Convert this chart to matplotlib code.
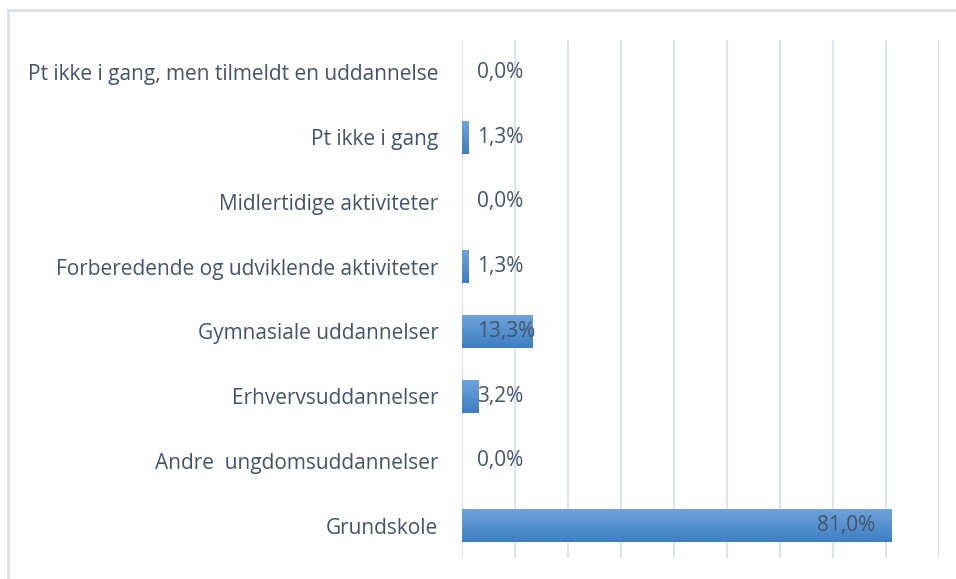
import matplotlib.pyplot as plt
import matplotlib.patches as mpatches
from matplotlib.colors import LinearSegmentedColormap
import numpy as np

categories = [
    "Pt ikke i gang, men tilmeldt en uddannelse",
    "Pt ikke i gang",
    "Midlertidige aktiviteter",
    "Forberedende og udviklende aktiviteter",
    "Gymnasiale uddannelser",
    "Erhvervsuddannelser",
    "Andre  ungdomsuddannelser",
    "Grundskole",
]
values = [0.0, 1.3, 0.0, 1.3, 13.3, 3.2, 0.0, 81.0]

text_col = "#44546a"
grid_col = "#dfe3ea"
bar_col = "#5592d2"

plt.rcParams["font.family"] = ["Open Sans", "DejaVu Sans"]

fig = plt.figure(figsize=(9.56, 5.79), dpi=100)
ax = fig.add_axes([462 / 956, 1 - 558 / 579, 477 / 956, 518 / 579])

y = list(range(len(categories)))
bars = ax.barh(y, values, height=0.51, color=bar_col, zorder=3)

# light-to-dark vertical gradient like the original bars
cmap = LinearSegmentedColormap.from_list("bar", ["#6fa5dc", "#3e7ec3"])
grad = np.linspace(0, 1, 64).reshape(-1, 1)
for b in bars:
    if b.get_width() <= 0:
        continue
    x0, y0 = b.get_x(), b.get_y()
    im = ax.imshow(grad, cmap=cmap, aspect="auto", zorder=3.5,
                   extent=(x0, x0 + b.get_width(), y0 + b.get_height(), y0),
                   origin="upper")
    im.set_clip_path(b)

for yi, v in zip(y, values):
    label = f"{v:.1f}%".replace(".", ",")
    if v > 50:
        ax.text(v - 3.0, yi, label, ha="right", va="center", fontsize=15, color=text_col, zorder=4)
    else:
        ax.text(2.9, yi, label, ha="left", va="center", fontsize=15, color=text_col, zorder=4)

ax.set_xlim(0, 90)
ax.set_ylim(len(categories) - 0.5, -0.5)
ax.set_xticks(range(0, 91, 10))
ax.set_xticklabels([])
ax.set_yticks(y)
ax.set_yticklabels(categories, fontsize=15, color=text_col)
ax.tick_params(axis="both", length=0)
ax.tick_params(axis="y", pad=17)
ax.grid(axis="x", color=grid_col, linewidth=1.5, zorder=0)
for s in ax.spines.values():
    s.set_visible(False)

# outer chart frame (cut off on the right and bottom)
frame = mpatches.Rectangle((8 / 956, -0.05), 1.0, 1 - 10 / 579 + 0.05,
                           transform=fig.transFigure, fill=False,
                           edgecolor="#dde1e8", linewidth=2)
fig.patches.append(frame)

fig.savefig("out.png", dpi=100)
